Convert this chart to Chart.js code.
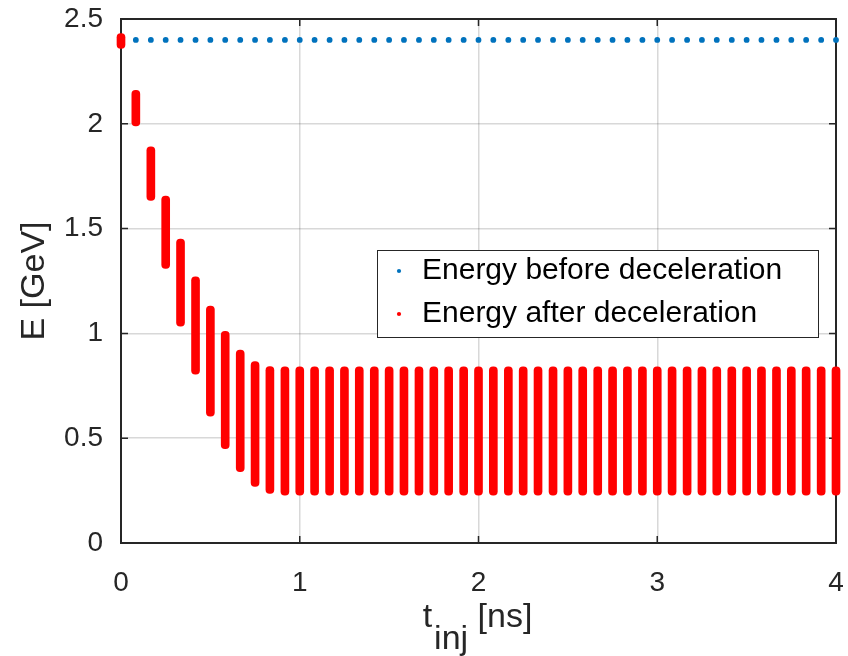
<!DOCTYPE html>
<html><head><meta charset="utf-8">
<script src="https://cdn.jsdelivr.net/npm/chart.js@4.4.1/dist/chart.umd.min.js"></script>
<style>html,body{margin:0;padding:0;background:#fff;} #wrap{width:848px;height:656px;}</style>
</head><body><div id="wrap"><canvas id="c" width="848" height="656"></canvas></div>
<script>
// ---- data ----
const tInj = [0, 0.083, 0.167, 0.25, 0.333, 0.417, 0.5, 0.583, 0.667, 0.75, 0.833, 0.917,
  1, 1.083, 1.167, 1.25, 1.333, 1.417, 1.5, 1.583, 1.667, 1.75, 1.833, 1.917,
  2, 2.083, 2.167, 2.25, 2.333, 2.417, 2.5, 2.583, 2.667, 2.75, 2.833, 2.917,
  3, 3.083, 3.167, 3.25, 3.333, 3.417, 3.5, 3.583, 3.667, 3.75, 3.833, 3.917, 4];
const eBefore = [2.4, 2.4, 2.4, 2.4, 2.4, 2.4, 2.4, 2.4, 2.4, 2.4, 2.4, 2.4,
  2.4, 2.4, 2.4, 2.4, 2.4, 2.4, 2.4, 2.4, 2.4, 2.4, 2.4, 2.4,
  2.4, 2.4, 2.4, 2.4, 2.4, 2.4, 2.4, 2.4, 2.4, 2.4, 2.4, 2.4,
  2.4, 2.4, 2.4, 2.4, 2.4, 2.4, 2.4, 2.4, 2.4, 2.4, 2.4, 2.4, 2.4];
const eAfterMin = [2.36, 1.99, 1.635, 1.31, 1.035, 0.805, 0.605, 0.45, 0.34, 0.27, 0.237, 0.228,
  0.228, 0.228, 0.228, 0.228, 0.228, 0.228, 0.228, 0.228, 0.228, 0.228, 0.228, 0.228,
  0.228, 0.228, 0.228, 0.228, 0.228, 0.228, 0.228, 0.228, 0.228, 0.228, 0.228, 0.228,
  0.228, 0.228, 0.228, 0.228, 0.228, 0.228, 0.228, 0.228, 0.228, 0.228, 0.228, 0.228, 0.228];
const eAfterMax = [2.43, 2.16, 1.89, 1.655, 1.45, 1.27, 1.13, 1.01, 0.92, 0.865, 0.842, 0.84,
  0.84, 0.84, 0.84, 0.84, 0.84, 0.84, 0.84, 0.84, 0.84, 0.84, 0.84, 0.84,
  0.84, 0.84, 0.84, 0.84, 0.84, 0.84, 0.84, 0.84, 0.84, 0.84, 0.84, 0.84,
  0.84, 0.84, 0.84, 0.84, 0.84, 0.84, 0.84, 0.84, 0.84, 0.84, 0.84, 0.84, 0.84];
const xTicks = [0, 1, 2, 3, 4];
const yTicks = [0, 0.5, 1, 1.5, 2, 2.5];
const seriesLabels = ['Energy before deceleration', 'Energy after deceleration'];
const yTitle = 'E [GeV]';
const xTitleParts = ['t', 'inj', '[ns]'];

// ---- style ----
const FONT = "'Liberation Sans', Arial, Helvetica, sans-serif";
const AX = '#262626';
const BLUE = '#0072BD';
const RED = '#FF0000';
const GRID = 'rgba(38,38,38,0.18)';

const blueData = tInj.map((t, i) => ({x: t, y: eBefore[i]}));
const redData = tInj.map((t, i) => ({x: t, y: [eAfterMin[i], eAfterMax[i]]}));

function zeroPad(s) { s.paddingTop = 0; s.paddingBottom = 0; s.paddingLeft = 0; s.paddingRight = 0; }

function drawLegendBox(chart) {
  const ca = chart.chartArea, ctx = chart.ctx;
  const bx = ca.right - 459, by = ca.top + 231, bw = 441, bh = 87;
  ctx.save();
  ctx.fillStyle = '#fff';
  ctx.fillRect(bx, by, bw, bh);
  ctx.strokeStyle = AX;
  ctx.lineWidth = 1;
  ctx.strokeRect(bx + 0.5, by + 0.5, bw, bh);
  ctx.restore();
}

const legendPlace = {
  id: 'legendPlace',
  afterLayout(chart) {
    const lg = chart.legend;
    if (!lg) return;
    const ca = chart.chartArea;
    lg.left = ca.right - 458;
    lg.top = ca.top + 224;
    lg.right = lg.left + lg.width;
    lg.bottom = lg.top + 120;
    if (!lg.__boxed) {
      const orig = lg.draw;
      lg.draw = function (area) { drawLegendBox(chart); orig.call(this, area); };
      lg.__boxed = true;
    }
  }
};

const frame = {
  id: 'frame',
  beforeDatasetsDraw(chart) {
    const ca = chart.chartArea, ctx = chart.ctx;
    const sx = chart.scales.x, sy = chart.scales.y;
    ctx.save();
    ctx.strokeStyle = AX;
    ctx.lineWidth = 2;
    ctx.strokeRect(ca.left, ca.top, ca.right - ca.left, ca.bottom - ca.top);
    ctx.lineWidth = 1.5;
    const tl = 7;
    ctx.beginPath();
    sx.ticks.forEach(t => {
      const px = sx.getPixelForValue(t.value);
      ctx.moveTo(px, ca.bottom); ctx.lineTo(px, ca.bottom - tl);
      ctx.moveTo(px, ca.top); ctx.lineTo(px, ca.top + tl);
    });
    sy.ticks.forEach(t => {
      const py = sy.getPixelForValue(t.value);
      ctx.moveTo(ca.left, py); ctx.lineTo(ca.left + tl, py);
      ctx.moveTo(ca.right, py); ctx.lineTo(ca.right - tl, py);
    });
    ctx.stroke();
    ctx.restore();
  }
};

const xTitle = {
  id: 'xTitle',
  afterDraw(chart) {
    const ca = chart.chartArea, ctx = chart.ctx;
    ctx.save();
    ctx.font = '34px ' + FONT;
    ctx.fillStyle = AX;
    ctx.textBaseline = 'alphabetic';
    ctx.textAlign = 'left';
    const wT = ctx.measureText(xTitleParts[0]).width;
    const wI = ctx.measureText(xTitleParts[1]).width;
    const wS = ctx.measureText(' ').width;
    const wN = ctx.measureText(xTitleParts[2]).width;
    const total = wT + 2 + wI + wS + wN;
    const cx = (ca.left + ca.right) / 2;
    let x = cx - total / 2 - 1;
    const base = ca.bottom + 84;
    ctx.fillText(xTitleParts[0], x, base);
    x += wT + 2;
    ctx.fillText(xTitleParts[1], x, base + 22);
    x += wI + wS;
    ctx.fillText(xTitleParts[2], x, base);
    ctx.restore();
  }
};

new Chart(document.getElementById('c'), {
  type: 'bar',
  data: {
    datasets: [
      {
        type: 'scatter',
        label: seriesLabels[0],
        data: blueData,
        order: 1,
        backgroundColor: BLUE,
        borderColor: BLUE,
        pointRadius: 2.9,
        pointBorderWidth: 0,
        pointStyle: 'circle',
        clip: false
      },
      {
        type: 'bar',
        label: seriesLabels[1],
        data: redData,
        order: 0,
        backgroundColor: RED,
        borderColor: RED,
        borderWidth: 0,
        borderRadius: 4,
        borderSkipped: false,
        barThickness: 8,
        pointStyle: 'circle',
        clip: false
      }
    ]
  },
  options: {
    responsive: false,
    animation: false,
    events: [],
    layout: {autoPadding: false, padding: {left: 0, top: 19, right: 12, bottom: 0}},
    plugins: {
      tooltip: {enabled: false},
      legend: {
        position: 'chartArea',
        align: 'start',
        labels: {
          usePointStyle: true,
          boxHeight: 3,
          boxWidth: 16,
          padding: 13,
          color: '#000',
          font: {family: FONT, size: 30},
          sort: (a, b) => a.datasetIndex - b.datasetIndex
        }
      }
    },
    scales: {
      x: {
        type: 'linear',
        min: 0, max: 4,
        offset: false,
        afterBuildTicks: s => { s.ticks = xTicks.map(v => ({value: v})); },
        afterFit: s => { s.height = 113; zeroPad(s); },
        grid: {color: GRID, lineWidth: 1.5, drawTicks: false, offset: false},
        border: {display: false},
        ticks: {color: AX, padding: 23, maxRotation: 0, font: {family: FONT, size: 28},
                callback: v => String(v)},
        title: {display: false}
      },
      y: {
        type: 'linear',
        min: 0, max: 2.5,
        afterBuildTicks: s => { s.ticks = yTicks.map(v => ({value: v})); },
        afterFit: s => { s.width = 121; zeroPad(s); },
        grid: {color: GRID, lineWidth: 1.5, drawTicks: false},
        border: {display: false},
        ticks: {color: AX, padding: 18, font: {family: FONT, size: 28},
                callback: v => String(v)},
        title: {display: true, text: yTitle, color: AX, padding: {top: 14, bottom: 0},
                font: {family: FONT, size: 34, lineHeight: 1.2}}
      }
    }
  },
  plugins: [legendPlace, frame, xTitle]
});
</script>
</body></html>
